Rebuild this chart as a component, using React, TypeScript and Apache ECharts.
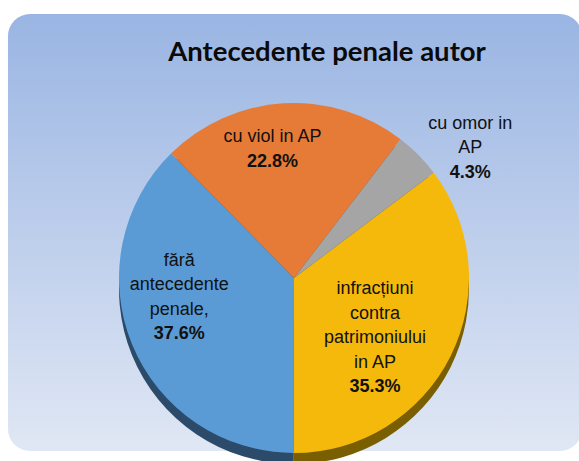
import React, { useEffect, useRef } from "react";
import * as echarts from "echarts";

const titleText = "Antecedente penale autor";
const categories = [
  "infracțiuni\ncontra\npatrimoniului\nin AP",
  "fără\nantecedente\npenale,",
  "cu viol in AP",
  "cu omor in\nAP",
];
const percents = [35.3, 37.6, 22.8, 4.3];
const topColors = ["#F4B90A", "#5B9BD5", "#E57B36", "#A5A5A5"];
const edgeColors = ["#7A5E02", "#2C4B6A", "#7A4018", "#555555"];
const labelShift = [
  [0, 19],
  [-31, -16],
  [-16, -39],
  [112, -67],
];

const LABEL_FONT = "'Liberation Sans', Arial, sans-serif";
const TITLE_FONT = "Lato, 'Open Sans', sans-serif";

export default function App() {
  const ref = useRef<HTMLDivElement>(null);
  useEffect(() => {
    document.body.style.margin = "0";
    const chart = echarts.init(ref.current!, null, { renderer: "svg" });
    const data = categories.map((name, i) => ({
      name,
      value: percents[i],
      itemStyle: { color: topColors[i] },
    }));
    const edgeData = categories.map((name, i) => ({
      name,
      value: percents[i],
      itemStyle: { color: edgeColors[i] },
    }));
    chart.setOption({
      animation: false,
      backgroundColor: "#ffffff",
      title: {
        text: titleText,
        left: 322,
        top: 31,
        textAlign: "center",
        textStyle: {
          fontFamily: TITLE_FONT,
          fontWeight: "bold",
          fontSize: 27.5,
          color: "#0a0a0a",
        },
      },
      graphic: [
        {
          type: "rect",
          z: -10,
          silent: true,
          shape: { x: 8, y: 14, width: 574, height: 437, r: 22 },
          style: {
            fill: new echarts.graphic.LinearGradient(0, 0, 0, 1, [
              { offset: 0, color: "#9AB5E3" },
              { offset: 1, color: "#E0E7F4" },
            ]),
          },
        },
      ],
      series: [
        {
          type: "pie",
          z: 1,
          silent: true,
          center: [294, 289],
          radius: 175,
          startAngle: 37,
          clockwise: true,
          label: { show: false },
          labelLine: { show: false },
          data: edgeData,
        },
        {
          type: "pie",
          z: 2,
          center: [294, 278],
          radius: 175,
          startAngle: 37,
          clockwise: true,
          avoidLabelOverlap: false,
          itemStyle: { borderWidth: 0 },
          label: {
            show: true,
            position: "inside",
            formatter: (p: any) => {
              const lines = String(p.name)
                .split("\n")
                .map((l: string) => `{n|${l}}`);
              return lines.join("\n") + `\n{p|${Number(p.value).toFixed(1)}%}`;
            },
            rich: {
              n: {
                fontFamily: LABEL_FONT,
                fontSize: 18,
                lineHeight: 24.5,
                color: "#111111",
              },
              p: {
                fontFamily: LABEL_FONT,
                fontSize: 18,
                fontWeight: "bold",
                lineHeight: 24.5,
                color: "#111111",
              },
            },
          },
          labelLayout: (params: any) => {
            const s = labelShift[params.dataIndex] || [0, 0];
            return { dx: s[0], dy: s[1] };
          },
          labelLine: { show: false },
          data,
        },
      ],
    });
    return () => chart.dispose();
  }, []);
  return (
    <div
      ref={ref}
      style={{ position: "absolute", left: 0, top: 0, width: 579, height: 461 }}
    />
  );
}
